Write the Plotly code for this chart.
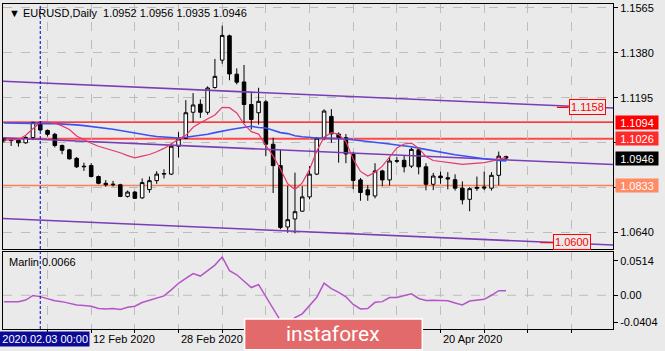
import plotly.graph_objects as go

# ---------------- data ----------------
bar_index = list(range(-5, 65))  # 0 = 2020.02.03

opens = [1.1028, 1.1018, 1.1020, 1.1009, 1.1031,
         1.1093, 1.1060, 1.1044, 1.0998, 1.0980, 1.0945, 1.0910, 1.0915, 1.0870, 1.0842,
         1.0836, 1.0836, 1.0788, 1.0806, 1.0782, 1.0816, 1.0853, 1.0880, 1.0880, 1.0995,
         1.1027, 1.1135, 1.1168, 1.1135, 1.1237, 1.1350, 1.1450, 1.1292, 1.1260, 1.1167,
         1.1133, 1.1178, 1.1003, 1.0915, 1.0662, 1.0695, 1.0727, 1.0786, 1.0880, 1.1030,
         1.1118, 1.1045, 1.1030, 1.0963, 1.0856, 1.0815, 1.0790, 1.0893, 1.0856, 1.0933,
         1.0937, 1.0913, 1.0980, 1.0910, 1.0838, 1.0872, 1.0865, 1.0857, 1.0822, 1.0776,
         1.0821, 1.0827, 1.0822, 1.0875, 1.0952]
highs = [1.1032, 1.1027, 1.1024, 1.1036, 1.1096,
         1.1098, 1.1064, 1.1050, 1.1002, 1.0984, 1.0950, 1.0927, 1.0925, 1.0874, 1.0855,
         1.0852, 1.0840, 1.0812, 1.0810, 1.0862, 1.0870, 1.0892, 1.0900, 1.1008, 1.1053,
         1.1185, 1.1214, 1.1188, 1.1242, 1.1355, 1.1492, 1.1455, 1.1316, 1.1330, 1.1214,
         1.1236, 1.1185, 1.1030, 1.0982, 1.0832, 1.0886, 1.0830, 1.0913, 1.1033, 1.1147,
         1.1148, 1.1052, 1.1045, 1.0972, 1.0864, 1.0834, 1.0925, 1.0898, 1.0951, 1.0950,
         1.0955, 1.0990, 1.0990, 1.0925, 1.0885, 1.0890, 1.0888, 1.0879, 1.0850, 1.0826,
         1.0870, 1.0890, 1.0888, 1.0973, 1.0956]
lows = [1.1010, 1.0996, 1.0993, 1.1005, 1.1020,
        1.1057, 1.1035, 1.0990, 1.0962, 1.0940, 1.0905, 1.0893, 1.0866, 1.0838, 1.0828,
        1.0829, 1.0785, 1.0783, 1.0778, 1.0778, 1.0803, 1.0840, 1.0862, 1.0876, 1.0948,
        1.1025, 1.1093, 1.1112, 1.1125, 1.1232, 1.1335, 1.1267, 1.1250, 1.1090, 1.1064,
        1.1084, 1.0955, 1.0802, 1.0653, 1.0638, 1.0636, 1.0725, 1.0776, 1.0876, 1.1020,
        1.1009, 1.0927, 1.0925, 1.0818, 1.0770, 1.0770, 1.0780, 1.0830, 1.0833, 1.0925,
        1.0887, 1.0905, 1.0879, 1.0813, 1.0814, 1.0840, 1.0817, 1.0812, 1.0755, 1.0727,
        1.0811, 1.0814, 1.0812, 1.0834, 1.0935]
closes = [1.1018, 1.1020, 1.1009, 1.1031, 1.1093,
          1.1062, 1.1044, 1.0998, 1.0978, 1.0943, 1.0910, 1.0912, 1.0870, 1.0842, 1.0836,
          1.0838, 1.0788, 1.0806, 1.0780, 1.0845, 1.0853, 1.0880, 1.0882, 1.0995, 1.1025,
          1.1133, 1.1165, 1.1135, 1.1235, 1.1283, 1.1452, 1.1293, 1.1259, 1.1167, 1.1105,
          1.1180, 1.1003, 1.0915, 1.0660, 1.0692, 1.0725, 1.0786, 1.0880, 1.1028, 1.1140,
          1.1046, 1.1030, 1.0963, 1.0854, 1.0804, 1.0794, 1.0893, 1.0856, 1.0934, 1.0935,
          1.0910, 1.0982, 1.0910, 1.0838, 1.0872, 1.0865, 1.0860, 1.0822, 1.0774, 1.0820,
          1.0825, 1.0823, 1.0875, 1.0954, 1.0946]

ma_red = [1.1020, 1.1022, 1.1023, 1.1040, 1.1068,
          1.1094, 1.1094, 1.1090, 1.1079, 1.1064, 1.1037, 1.1021, 1.1007, 1.0995, 1.0986,
          1.0978, 1.0968, 1.0956, 1.0947, 1.0954, 1.0961, 1.0972, 1.0986, 1.1004, 1.1025,
          1.1040, 1.1073, 1.1092, 1.1108, 1.1124, 1.1155, 1.1154, 1.1132, 1.1086, 1.1055,
          1.1045, 1.0999, 1.0954, 1.0901, 1.0840, 1.0817, 1.0844, 1.0899, 1.0975, 1.1032,
          1.1051, 1.1044, 1.1014, 1.0942, 1.0891, 1.0872, 1.0887, 1.0913, 1.0951, 1.0988,
          1.1004, 1.1008, 1.0987, 1.0952, 1.0936, 1.0931, 1.0928, 1.0924, 1.0920, 1.0922,
          1.0924, 1.0927, 1.0933, 1.0942, 1.0949]
ma_blue = [1.1091, 1.1090, 1.1090, 1.1090, 1.1089,
           1.1088, 1.1088, 1.1088, 1.1087, 1.1086, 1.1083, 1.1080, 1.1077, 1.1074, 1.1070,
           1.1065, 1.1060, 1.1054, 1.1049, 1.1044, 1.1039, 1.1035, 1.1032, 1.1031, 1.1029,
           1.1032, 1.1035, 1.1039, 1.1044, 1.1051, 1.1058, 1.1063, 1.1068, 1.1073, 1.1077,
           1.1072, 1.1070, 1.1061, 1.1051, 1.1047, 1.1038, 1.1034, 1.1031, 1.1029, 1.1029,
           1.1029, 1.1027, 1.1025, 1.1022, 1.1019, 1.1015, 1.1012, 1.1008, 1.1004, 1.1000,
           1.0997, 1.0993, 1.0987, 1.0981, 1.0975, 1.0969, 1.0964, 1.0960, 1.0956, 1.0951,
           1.0947, 1.0942, 1.0939, 1.0936, 1.0934]
marlin = [-0.0098, -0.0098, -0.0098, -0.0071, -0.0003,
          -0.0020, -0.0048, -0.0083, -0.0095, -0.0116, -0.0146, -0.0154, -0.0164, -0.0197, -0.0204,
          -0.0199, -0.0211, -0.0179, -0.0164, -0.0109, -0.0073, -0.0039, -0.0010, 0.0080, 0.0179,
          0.0253, 0.0325, 0.0287, 0.0368, 0.0451, 0.0572, 0.0368, 0.0306, 0.0211, 0.0116,
          0.0160, -0.0015, -0.0189, -0.0378, -0.0451, -0.0335, -0.0277, -0.0160, -0.0029, 0.0182,
          0.0098, 0.0044, -0.0022, -0.0137, -0.0204, -0.0197, -0.0105, -0.0095, -0.0033, -0.0033,
          -0.0004, 0.0022, -0.0048, -0.0077, -0.0073, -0.0083, -0.0083, -0.0115, -0.0144, -0.0086,
          -0.0079, -0.0061, 0.0000, 0.0068, 0.0066]

channel_x = [-6, 79]
channel_upper = [1.1264, 1.1152]
channel_middle = [1.1031, 1.0919]
channel_lower = [1.0698, 1.0587]

levels = [1.1094, 1.1026, 1.0833]
level_colors = ["#FF0000", "#FF4848", "#FF7F50"]
level_widths = [1.2, 2.0, 1.6]
level_labels = ["1.1094", "1.1026", "1.0833"]
label_bg = ["#FF0000", "#FF2A2A", "#FF8A64"]

current_price = 1.0946
target_levels = [1.1158, 1.0600]
target_label_x = [72.6, 70.5]      # bar index of label box left edge
target_stub_x0 = [71.0, 68.7]

price_ticks = [1.1565, 1.1380, 1.1195, 1.1010, 1.0825, 1.0640]
price_tick_text = ["1.1565", "1.1380", "1.1195", "", "", "1.0640"]  # hidden ones sit under the level boxes
marlin_ticks = [0.0514, 0.0, -0.0404]
marlin_tick_text = ["0.0514", "0.00", "-0.0404"]
grid_bars = list(range(1, 80, 6))
date_label_bars = [7, 19, 55]
date_labels = ["12 Feb 2020", "28 Feb 2020", "20 Apr 2020"]
cursor_bar = 0
cursor_text = "2020.02.03 00:00"
title_text = "\u25BC EURUSD,Daily  1.0952 1.0956 1.0935 1.0946"
marlin_text = "Marlin 0.0066"

# ---------------- geometry helpers (pixel -> paper) ----------------
W, H = 665, 351
ML, MR, MT, MB = 2, 52, 2, 22
PW, PH = W - ML - MR, H - MT - MB


def px(x):
    return (x - ML) / PW


def py(y):
    return (H - MB - y) / PH


BG = "#EAEAEA"
GRID = "#BDBDBD"
FONT = "Liberation Sans, Arial, sans-serif"

fig = go.Figure()

fig.add_trace(go.Candlestick(
    x=bar_index, open=opens, high=highs, low=lows, close=closes,
    increasing=dict(fillcolor="#FFFFFF", line=dict(color="#000000", width=1)),
    decreasing=dict(fillcolor="#000000", line=dict(color="#000000", width=1)),
    whiskerwidth=0, xaxis="x", yaxis="y", hoverinfo="skip"))

for ys in (channel_upper, channel_middle, channel_lower):
    fig.add_trace(go.Scatter(x=channel_x, y=ys, mode="lines",
                             line=dict(color="#7B3DB5", width=1.6), xaxis="x", yaxis="y", hoverinfo="skip"))

fig.add_trace(go.Scatter(x=bar_index, y=ma_blue, mode="lines",
                         line=dict(color="#3A52F5", width=1.6), xaxis="x", yaxis="y", hoverinfo="skip"))
fig.add_trace(go.Scatter(x=bar_index, y=ma_red, mode="lines",
                         line=dict(color="#E8386A", width=1.2), xaxis="x", yaxis="y", hoverinfo="skip"))

fig.add_trace(go.Scatter(x=bar_index, y=marlin, mode="lines",
                         line=dict(color="#B455C8", width=1.5), xaxis="x2", yaxis="y2", hoverinfo="skip"))

shapes = []
for lv, c, w in zip(levels, level_colors, level_widths):
    shapes.append(dict(type="line", xref="x domain", x0=0, x1=1, yref="y", y0=lv, y1=lv,
                       line=dict(color=c, width=w), layer="below"))
shapes.append(dict(type="line", xref="x2 domain", x0=0, x1=1, yref="y2", y0=0, y1=0,
                   line=dict(color=GRID, width=1, dash="dash"), layer="below"))
for tl, x0, x1 in zip(target_levels, target_stub_x0, target_label_x):
    shapes.append(dict(type="line", xref="x", x0=x0, x1=x1, yref="y", y0=tl - 0.0003, y1=tl - 0.0003,
                       line=dict(color="#FF0000", width=1.2)))
shapes.append(dict(type="line", xref="x", x0=cursor_bar, x1=cursor_bar, yref="paper", y0=0, y1=1,
                   line=dict(color="#0000C8", width=1, dash="3px,2px")))
shapes.append(dict(type="rect", xref="paper", yref="paper", x0=px(244), x1=px(422), y0=py(350), y1=py(319),
                   fillcolor="#E36A6A", line=dict(color="#FFFFFF", width=1.5), layer="above"))

annotations = []
annotations.append(dict(xref="paper", yref="paper", x=px(6), y=py(11), xanchor="left", yanchor="middle",
                        text=title_text, showarrow=False, font=dict(family=FONT, size=11, color="#000000")))
annotations.append(dict(xref="paper", yref="paper", x=px(6), y=py(262), xanchor="left", yanchor="middle",
                        text=marlin_text, showarrow=False, font=dict(family=FONT, size=11, color="#000000")))
for b, t in zip(date_label_bars, date_labels):
    annotations.append(dict(xref="x", yref="paper", x=b, y=py(339), xanchor="left", yanchor="middle",
                            text=t, showarrow=False, font=dict(family=FONT, size=11, color="#000000")))
annotations.append(dict(xref="paper", yref="paper", x=px(89), y=py(339), xanchor="right", yanchor="middle",
                        text=cursor_text, showarrow=False, bgcolor="#0A0A96", borderpad=1, width=92,
                        align="right", font=dict(family=FONT, size=11, color="#FFFFFF")))
for lv, t, bg in zip(levels, level_labels, label_bg):
    annotations.append(dict(xref="paper", yref="y", x=px(615), y=lv, xanchor="left", yanchor="middle",
                            text=t, showarrow=False, bgcolor=bg, width=40, height=11, borderpad=1,
                            font=dict(family=FONT, size=11, color="#FFFFFF")))
annotations.append(dict(xref="paper", yref="y", x=px(615), y=current_price, xanchor="left", yanchor="middle",
                        text="%.4f" % current_price, showarrow=False, bgcolor="#000000", width=40, height=11,
                        borderpad=1, font=dict(family=FONT, size=11, color="#FFFFFF")))
for tl, xl in zip(target_levels, target_label_x):
    annotations.append(dict(xref="x", yref="y", x=xl, y=tl, xanchor="left", yanchor="middle",
                            text="%.4f" % tl, showarrow=False, bgcolor=BG, bordercolor="#FF0000",
                            borderwidth=1, borderpad=1, font=dict(family=FONT, size=11, color="#FF0000")))
annotations.append(dict(xref="paper", yref="paper", x=px(333), y=py(334), xanchor="center", yanchor="middle",
                        text="instaforex", showarrow=False,
                        font=dict(family="Roboto, sans-serif", size=21, color="#FFFFFF")))

axis_common = dict(showline=True, mirror=True, linecolor="#000000", linewidth=1, zeroline=False)

fig.update_layout(
    width=W, height=H, margin=dict(l=ML, r=MR, t=MT, b=MB),
    paper_bgcolor=BG, plot_bgcolor=BG, showlegend=False, hovermode=False,
    font=dict(family=FONT, size=11, color="#000000"),
    xaxis=dict(domain=[0, 1], range=[-5.12, 78.7], anchor="y", tickvals=grid_bars, showticklabels=False,
               showgrid=True, gridcolor=GRID, griddash="dash", gridwidth=1, ticks="",
               rangeslider=dict(visible=False), **axis_common),
    xaxis2=dict(domain=[0, 1], range=[-5.12, 78.7], anchor="y2", matches="x", tickvals=grid_bars,
                showticklabels=False, showgrid=True, gridcolor=GRID, griddash="dash", gridwidth=1,
                ticks="outside", ticklen=3, tickcolor="#000000", **axis_common),
    yaxis=dict(domain=[py(248.3), 1], range=[1.0572, 1.15814], side="right", anchor="x",
               tickvals=price_ticks, ticktext=price_tick_text, ticklabeloverflow="allow",
               ticks="outside", ticklen=4, tickcolor="#000000", showgrid=True, gridcolor=GRID,
               griddash="dash", gridwidth=1, tickfont=dict(family=FONT, size=11, color="#000000"),
               **axis_common),
    yaxis2=dict(domain=[0, py(251.7)], range=[-0.0504, 0.0644], side="right", anchor="x2",
                tickvals=marlin_ticks, ticktext=marlin_tick_text, ticks="outside", ticklen=4,
                ticklabeloverflow="allow",
                tickcolor="#000000", showgrid=False, tickfont=dict(family=FONT, size=11, color="#000000"),
                **axis_common),
    shapes=shapes, annotations=annotations,
)

fig.write_html("out.html")
